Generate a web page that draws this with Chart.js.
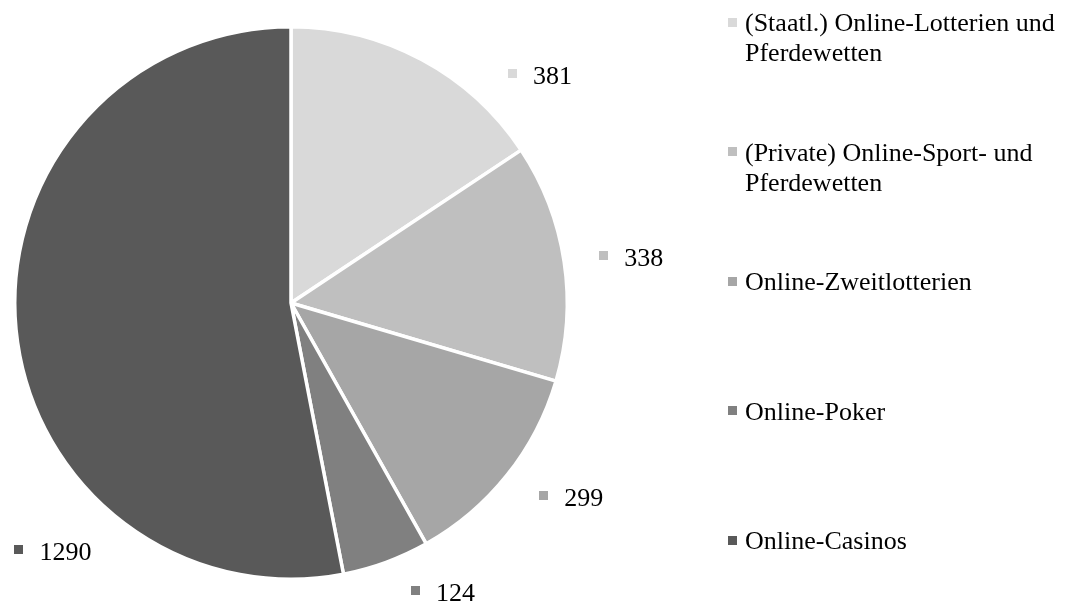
<!DOCTYPE html>
<html>
<head>
<meta charset="utf-8">
<script src="https://cdn.jsdelivr.net/npm/chart.js@4.4.1/dist/chart.umd.min.js"></script>
<style>
  html, body { margin: 0; padding: 0; background: #fff; }
  #wrap { position: relative; width: 1070px; height: 604px; overflow: hidden; }
  #chart { position: absolute; left: 0; top: 0; }
  #legend { position: absolute; left: 728px; top: 0; font-family: 'Liberation Serif', 'Times New Roman', serif; font-size: 26px; color: #000; }
  .item { position: absolute; left: 0; width: 340px; display: flex; align-items: flex-start; }
  .box { width: 9px; height: 9px; flex: none; margin-top: 9.5px; }
  .txt { margin-left: 8px; line-height: 30px; white-space: nowrap; }
</style>
</head>
<body>
<div id="wrap">
  <canvas id="chart" width="1070" height="604"></canvas>
  <div id="legend"></div>
</div>
<script>
const categories = [
    ['(Staatl.) Online-Lotterien und', 'Pferdewetten'],
    ['(Private) Online-Sport- und', 'Pferdewetten'],
    ['Online-Zweitlotterien'],
    ['Online-Poker'],
    ['Online-Casinos']
];
const values = [381, 338, 299, 124, 1290];
const colors = ['#d9d9d9', '#bfbfbf', '#a6a6a6', '#808080', '#595959'];

// where Excel put the value labels: angle from top (deg) and distance as share of radius
const labelAngles = [47.5, 82.3, 124.7, 152.3, 223.8];
const labelDist = [1.223, 1.243, 1.234, 1.183, 1.245];

const FONT = "26px 'Liberation Serif', 'Times New Roman', serif";

const valueLabels = {
    id: 'valueLabels',
    afterDatasetsDraw(chart) {
        const ctx = chart.ctx;
        const arcs = chart.getDatasetMeta(0).data;
        ctx.save();
        ctx.font = FONT;
        arcs.forEach((arc, i) => {
            const r = arc.outerRadius * labelDist[i];
            const a = labelAngles[i] * Math.PI / 180;
            const cx = arc.x + r * Math.sin(a);
            const cy = arc.y - r * Math.cos(a);
            const text = String(values[i]);
            const w = ctx.measureText(text).width;
            const total = 9 + 16 + w;
            const left = cx - total / 2;
            ctx.fillStyle = colors[i];
            ctx.fillRect(Math.round(left), Math.round(cy - 6), 9, 9);
            ctx.fillStyle = '#000';
            ctx.textBaseline = 'alphabetic';
            ctx.fillText(text, left + 25, cy + 9);
        });
        ctx.restore();
    }
};

new Chart(document.getElementById('chart'), {
    type: 'pie',
    data: {
        labels: categories.map(c => c.join(' ')),
        datasets: [{
            data: values,
            backgroundColor: colors,
            borderColor: '#ffffff',
            borderWidth: 3.5
        }]
    },
    options: {
        responsive: false,
        animation: false,
        events: [],
        layout: { padding: { left: 13, right: 501, top: 25, bottom: 23 } },
        plugins: {
            legend: { display: false },
            tooltip: { enabled: false }
        }
    },
    plugins: [valueLabels]
});

// legend on the right, built from the same arrays
const legend = document.getElementById('legend');
categories.forEach((lines, i) => {
    const item = document.createElement('div');
    item.className = 'item';
    item.style.top = (22 + i * 129.5 - 14) + 'px';
    item.innerHTML = '<div class="box" style="background:' + colors[i] + '"></div>' +
        '<div class="txt">' + lines.join('<br>') + '</div>';
    legend.appendChild(item);
});
</script>
</body>
</html>
